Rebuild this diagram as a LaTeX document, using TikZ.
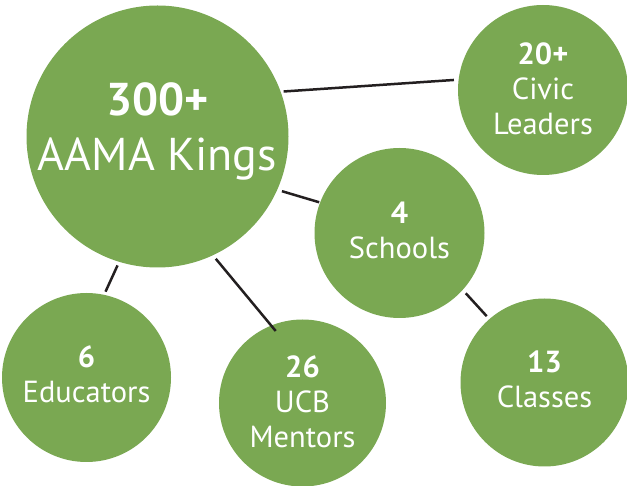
\documentclass[tikz,border=0pt]{standalone}
\usepackage{fontspec}
\setmainfont{PT Sans}
\definecolor{leaf}{RGB}{122,168,82}
\definecolor{ink}{RGB}{35,31,32}
\begin{document}
\begin{tikzpicture}[x=1pt,y=1pt,
  bubble/.style={circle,fill=leaf,inner sep=0pt,outer sep=0pt,minimum size=#1},
  bigtext/.style={text=white,align=center,inner sep=0pt,font=\fontsize{46}{55}\selectfont,yshift=5pt},
  smalltext/.style={text=white,align=center,inner sep=0pt,font=\fontsize{30.5}{35}\selectfont,yshift=#1},
  smalltext/.default=3pt,
  link/.style={draw=ink,line width=2.5pt}]
\useasboundingbox (0,0) rectangle (627,485);

\node[bubble=262pt,label={[bigtext]center:\textbf{300+}\\AAMA Kings}] (kings) at (157.5,348.5) {};
\node[bubble=170pt,label={[smalltext=1pt]center:\textbf{20+}\\Civic\\Leaders}] (civic) at (543,395) {};
\node[bubble=170pt,label={[smalltext]center:\textbf{4}\\Schools}] (schools) at (399.5,252) {};
\node[bubble=169pt,label={[smalltext]center:\textbf{6}\\Educators}] (educators) at (86.5,107.5) {};
\node[bubble=167pt,label={[smalltext=1pt]center:\textbf{26}\\UCB\\Mentors}] (mentors) at (302.5,82) {};
\node[bubble=168pt,label={[smalltext]center:\textbf{13}\\Classes}] (classes) at (544.5,102.5) {};

\draw[link,shorten <=3pt,shorten >=4.7pt] (kings.20) -- (civic.173);
\draw[link,shorten <=5pt,shorten >=1pt] (kings.-24) -- (schools.159);
\draw[link,shorten <=4pt,shorten >=3.5pt] (kings.-107.7) -- (educators.78.6);
\draw[link,shorten <=4.6pt,shorten >=-7pt] (kings.-65.6) -- (mentors.112.8);
\draw[link,shorten <=4.6pt,shorten >=4pt] (schools.-42) -- (classes.131.3);
\end{tikzpicture}
\end{document}
